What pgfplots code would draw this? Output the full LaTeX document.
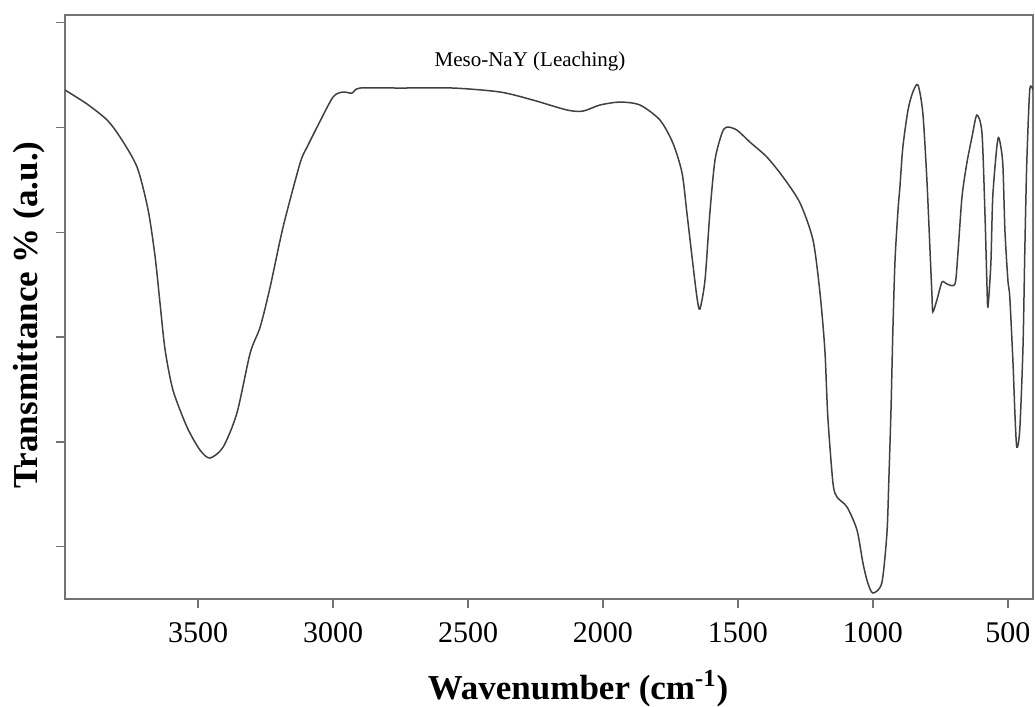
\documentclass[border=0pt]{standalone}
\usepackage{fontspec}
\setmainfont{Liberation Serif}
\usepackage{pgfplots}
\pgfplotsset{compat=1.18}
\begin{document}
\begin{tikzpicture}
\begin{axis}[name=ax, at={(0,0)}, anchor=south west,
  scale only axis, width=484pt, height=292pt,
  x dir=reverse, xmin=407, xmax=3993, ymin=0, ymax=55.73,
  xtick={500,1000,...,3500}, ytick={5,15,25,35,45,55}, yticklabels={},
  scaled x ticks=false,
  /pgf/number format/1000 sep={},
  /pgf/number format/assume math mode=true,
  tick pos=left, tick align=outside, major tick length=4.5pt,
  axis line style={draw=black!55, line width=0.7pt},
  every tick/.style={draw=black!55, line width=0.7pt},
  xticklabel style={font=\fontsize{15}{18}\selectfont, anchor=north, yshift=-3.7pt},
  xlabel={Wavenumber (cm\textsuperscript{-1})},
  ylabel={Transmittance \% (a.u.)},
  xlabel style={font=\fontsize{17.5}{20}\selectfont\bfseries, at={(axis description cs:0.53,0)}, anchor=base, yshift=-50pt},
  ylabel style={font=\fontsize{17.5}{20}\selectfont\bfseries, at={(axis description cs:-0.0289,0.486)}, anchor=base},
]
\addplot[color=black!75, line width=0.75pt, smooth, tension=0.45] table {
3993 48.57
3911 47.23
3837 45.71
3789 44.08
3726 41.22
3685 37.12
3659 32.63
3641 28.24
3622 23.76
3593 19.94
3541 16.41
3493 14.22
3456 13.45
3407 14.50
3356 17.75
3307 23.47
3270 25.95
3233 29.77
3185 35.50
3122 41.60
3096 43.13
3059 45.04
3000 47.90
2963 48.38
2930 48.28
2900 48.76
2752 48.76
2556 48.76
2381 48.38
2259 47.61
2133 46.66
2074 46.56
2011 47.14
1937 47.42
1863 47.14
1789 45.71
1741 43.51
1707 40.65
1689 36.83
1670 32.63
1652 28.82
1641 27.67
1622 30.44
1604 36.83
1585 41.89
1559 44.47
1541 45.04
1504 44.75
1456 43.61
1393 42.18
1333 40.27
1270 37.79
1222 34.26
1196 29.20
1178 23.76
1167 17.37
1148 11.07
1133 9.73
1096 8.78
1059 6.58
1037 3.44
1019 1.53
1000 0.57
967 1.53
948 6.30
941 11.35
933 18.03
926 25.67
918 32.35
907 37.12
900 39.31
889 43.13
870 46.66
852 48.38
833 49.05
815 46.37
800 39.98
789 33.59
781 28.82
778 27.39
763 28.53
744 30.25
726 30.06
696 30.06
685 33.02
670 38.36
652 41.60
633 44.08
615 46.18
596 44.47
585 36.83
578 30.44
574 27.86
563 32.06
556 38.36
541 43.13
533 43.99
519 41.60
511 35.21
500 30.44
493 28.82
481 22.52
474 17.75
467 14.50
456 16.13
444 24.05
437 33.59
430 41.60
419 48.57
407 48.57
};
\node[anchor=base, font=\fontsize{10.5}{12}\selectfont] at (axis description cs:0.4804,0.911) {Meso-NaY (Leaching)};
\end{axis}
\pgfresetboundingbox
\path[use as bounding box] (-32.5pt,-54pt) rectangle (485pt,299.5pt);
\end{tikzpicture}
\end{document}
